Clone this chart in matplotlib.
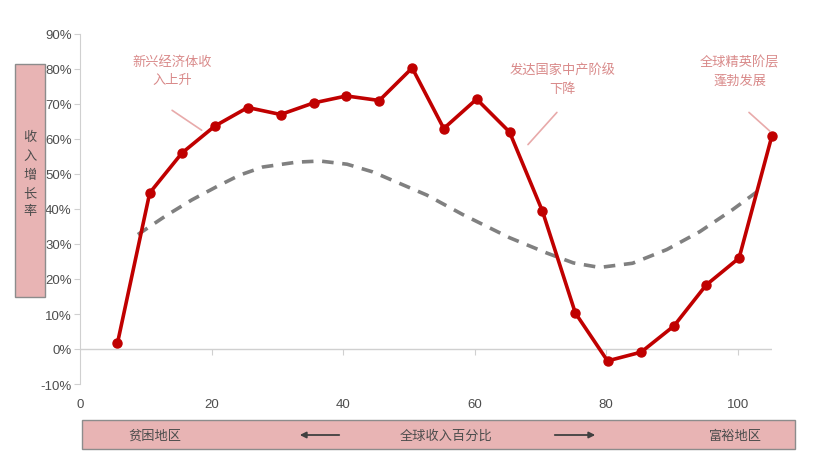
import matplotlib
matplotlib.use("Agg")
import matplotlib.pyplot as plt
from matplotlib.patches import Rectangle, FancyArrowPatch
from matplotlib.ticker import FuncFormatter

plt.rcParams['font.family'] = ['Noto Sans CJK SC', 'DejaVu Sans']

# Income growth by global income percentile
pct = [5.7, 10.6, 15.5, 20.5, 25.5, 30.5, 35.5, 40.5, 45.5, 50.5, 55.3,
       60.3, 65.3, 70.3, 75.3, 80.2, 85.3, 90.3, 95.2, 100.2, 105.2]
growth = [1.7, 44.6, 56.0, 63.7, 69.0, 67.0, 70.3, 72.3, 71.0, 80.3, 63.0,
          71.4, 62.0, 39.4, 10.3, -3.4, -0.9, 6.6, 18.3, 26.0, 61.0]

# Dashed trend curve
trend_x = [8.8, 13.0, 17.0, 21.0, 24.3, 27.8, 33.0, 36.5, 40.6, 44.5, 49.1,
           52.7, 58.2, 65.3, 71.0, 75.0, 79.0, 84.0, 89.2, 94.2, 99.2, 102.9]
trend_y = [32.7, 38.0, 42.6, 46.6, 49.7, 52.0, 53.4, 53.7, 52.8, 50.6, 46.9,
           44.0, 38.4, 31.8, 27.4, 24.6, 23.3, 24.5, 28.4, 33.5, 39.8, 44.9]

yticks = list(range(-10, 91, 10))
xticks = [0, 20, 40, 60, 80, 100]

notes = ['新兴经济体收\n入上升', '发达国家中产阶级\n下降', '全球精英阶层\n蓬勃发展']
note_pos = [(14.0, 79.5), (73.3, 77.0), (100.3, 79.5)]
note_line = [((14.0, 68.2), (18.5, 62.5)),
             ((72.5, 67.6), (68.1, 58.4)),
             ((101.7, 67.6), (104.9, 62.2))]

red = '#C00000'
gray_txt = '#4D4D4D'
note_col = '#D98A8A'
pink = '#E8B4B4'

fig = plt.figure(figsize=(8.13, 4.6), dpi=100)
ax = fig.add_axes([80 / 813, 1 - 385 / 460, 692 / 813, 350 / 460])

ax.plot(trend_x, trend_y, color='#808080', lw=2.6, dashes=(3.2, 2.4))
ax.plot(pct, growth, color=red, lw=2.6, marker='o', ms=6.5, clip_on=False, zorder=3)

ax.axhline(0, color='#D0D0D0', lw=1, zorder=0)

ax.set_xlim(0, 105.2)
ax.set_ylim(-10, 90)
ax.set_yticks(yticks)
ax.set_xticks(xticks)
ax.yaxis.set_major_formatter(FuncFormatter(lambda v, p: f'{v:.0f}%'))

for s in ['top', 'right', 'bottom']:
    ax.spines[s].set_visible(False)
ax.spines['left'].set_color('#D0D0D0')
ax.tick_params(axis='y', colors='#D0D0D0', length=4, pad=2, labelcolor=gray_txt,
               labelsize=9.5)
ax.tick_params(axis='x', length=0, pad=10, labelcolor=gray_txt, labelsize=9.5)
for lab in ax.get_xticklabels() + ax.get_yticklabels():
    lab.set_family(['Liberation Sans', 'DejaVu Sans'])

# small ticks along the zero line
sec = ax.secondary_xaxis(0.1)
sec.set_xticks(xticks[1:])
sec.set_xticklabels([])
sec.spines['bottom'].set_visible(False)
sec.tick_params(length=4, color='#D0D0D0')

for txt, pos, (p0, p1) in zip(notes, note_pos, note_line):
    ax.text(pos[0], pos[1], txt, color=note_col, fontsize=9.5, ha='center',
            va='center', style='italic', linespacing=1.5)
    ax.annotate('', xy=p1, xytext=p0,
                arrowprops=dict(arrowstyle='-', color='#E8AAAA', lw=1.2,
                                shrinkA=0, shrinkB=0), annotation_clip=False)

# left label box
fig.add_artist(Rectangle((15 / 813, 1 - 298 / 460), 30 / 813, 233 / 460,
                         transform=fig.transFigure, facecolor=pink,
                         edgecolor='#8C8C8C', lw=1))
fig.text(30 / 813, 1 - 175 / 460, '收\n入\n增\n长\n率', ha='center', va='center',
         fontsize=9.5, color=gray_txt, linespacing=1.55)

# bottom label box
fig.add_artist(Rectangle((82 / 813, 1 - 450 / 460), 713 / 813, 29 / 460,
                         transform=fig.transFigure, facecolor=pink,
                         edgecolor='#8C8C8C', lw=1))
ybox = 1 - 436 / 460
fig.text(155 / 813, ybox, '贫困地区', ha='center', va='center', fontsize=9.5, color=gray_txt)
fig.text(446 / 813, ybox, '全球收入百分比', ha='center', va='center', fontsize=9.5, color=gray_txt)
fig.text(735 / 813, ybox, '富裕地区', ha='center', va='center', fontsize=9.5, color=gray_txt)
for x0, x1 in [(342, 297), (552, 598)]:
    fig.add_artist(FancyArrowPatch((x0 / 813, ybox), (x1 / 813, ybox),
                                   transform=fig.transFigure, arrowstyle='-|>',
                                   color='#404040', lw=1.3, mutation_scale=9,
                                   zorder=5))

fig.savefig('out.png', dpi=100)
